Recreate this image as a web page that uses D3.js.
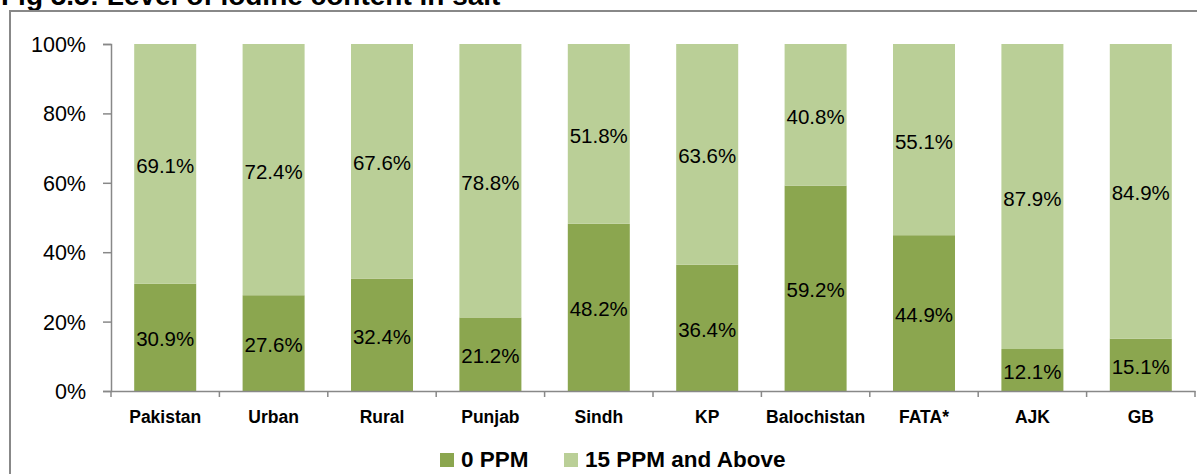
<!DOCTYPE html>
<html>
<head>
<meta charset="utf-8">
<script src="https://cdn.jsdelivr.net/npm/d3@7"></script>
<style>
  html, body { margin: 0; padding: 0; background: #fff; }
  svg { display: block; font-family: "Liberation Sans", Arial, sans-serif; }
</style>
</head>
<body>
<svg id="chart" width="1197" height="474"></svg>
<script>
const categories = ["Pakistan", "Urban", "Rural", "Punjab", "Sindh", "KP", "Balochistan", "FATA*", "AJK", "GB"];
const seriesNames = ["0 PPM", "15 PPM and Above"];
const zeroPPM = [30.9, 27.6, 32.4, 21.2, 48.2, 36.4, 59.2, 44.9, 12.1, 15.1];
const fifteenPlus = [69.1, 72.4, 67.6, 78.8, 51.8, 63.6, 40.8, 55.1, 87.9, 84.9];
const yTicks = [0, 20, 40, 60, 80, 100];
const colors = ["#8ba64f", "#bacf97"];
const titleText = "Fig 5.5: Level of iodine content in salt";

const svg = d3.select("#chart");

// Title (cut off at top as in reference)
svg.append("text")
  .attr("x", 1).attr("y", 5)
  .attr("font-weight", "bold").attr("font-size", 28)
  .attr("fill", "#000")
  .text(titleText);

// Frame
svg.append("path")
  .attr("d", "M10,480 L10,11 L1200,11")
  .attr("fill", "none").attr("stroke", "#888").attr("stroke-width", 2);

const x = d3.scaleBand().domain(categories).range([111, 1195]).paddingInner(0.428).paddingOuter(0.214);
const y = d3.scaleLinear().domain([0, 100]).range([391, 44]);

const rows = categories.map((c, i) => ({ cat: c, a: zeroPPM[i], b: fifteenPlus[i] }));
const stack = d3.stack().keys(["a", "b"])(rows);

const g = svg.append("g");
stack.forEach((layer, li) => {
  g.selectAll(null).data(layer).enter().append("rect")
    .attr("x", d => x(d.data.cat))
    .attr("width", x.bandwidth())
    .attr("y", d => y(d[1]))
    .attr("height", d => y(d[0]) - y(d[1]))
    .attr("fill", colors[li]);
});

// Data labels
stack.forEach((layer, li) => {
  g.selectAll(null).data(layer).enter().append("text")
    .attr("x", d => x(d.data.cat) + x.bandwidth() / 2)
    .attr("y", d => (y(d[0]) + y(d[1])) / 2 + 9)
    .attr("text-anchor", "middle")
    .attr("font-size", 20.5)
    .attr("fill", "#000")
    .text(d => (d[1] - d[0]).toFixed(1) + "%");
});

// Y axis
const yAxis = svg.append("g").attr("transform", "translate(111,0)")
  .call(d3.axisLeft(y).tickValues(yTicks).tickSize(8).tickPadding(17).tickFormat(d => d + "%"));
yAxis.select(".domain").attr("stroke", "#888").attr("stroke-width", 1.5);
yAxis.selectAll(".tick line").attr("stroke", "#888").attr("stroke-width", 1.5);
yAxis.selectAll(".tick text").attr("font-size", 21.5).attr("fill", "#000")
  .attr("font-family", "Liberation Sans, Arial, sans-serif").attr("dy", "0.35em");

// X axis
const xAxis = svg.append("g").attr("transform", "translate(0,391)")
  .call(d3.axisBottom(x).tickSize(0).tickPadding(20));
xAxis.select(".domain").attr("stroke", "#888").attr("stroke-width", 1.5);
xAxis.selectAll(".tick text").attr("font-size", 17.5).attr("font-weight", "bold").attr("fill", "#000")
  .attr("font-family", "Liberation Sans, Arial, sans-serif");
// boundary ticks
const bounds = categories.map(c => x(c) - x.step() * x.paddingInner() / 2).concat([x.range()[1]]);
xAxis.selectAll(null).data(bounds).enter().append("line")
  .attr("x1", d => d).attr("x2", d => d).attr("y1", 0).attr("y2", 6)
  .attr("stroke", "#888").attr("stroke-width", 1.5);

// Legend
const legend = svg.append("g");
const legendX = [440, 564];
seriesNames.forEach((name, i) => {
  legend.append("rect").attr("x", legendX[i]).attr("y", 453).attr("width", 14).attr("height", 14).attr("fill", colors[i]);
  legend.append("text").attr("x", legendX[i] + 21).attr("y", 467)
    .attr("font-size", 22.5).attr("font-weight", "bold").attr("fill", "#000").text(name);
});
</script>
</body>
</html>
